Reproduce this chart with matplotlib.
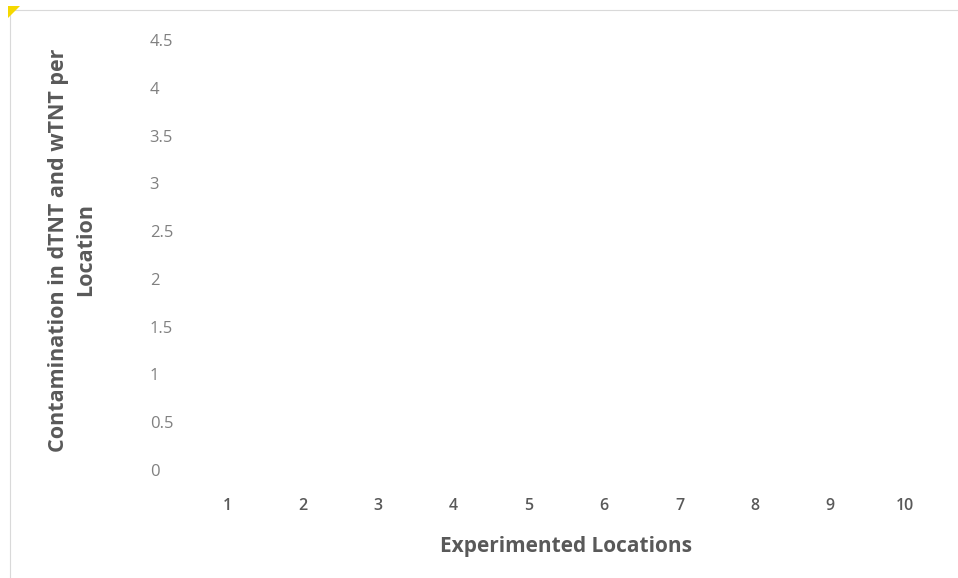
import matplotlib
matplotlib.use("Agg")
import matplotlib.pyplot as plt
import matplotlib.patches as mpatches

# data: the chart has no plotted series, only the category axis and value scale
locations = ["1", "2", "3", "4", "5", "6", "7", "8", "9", "10"]
y_ticks = [0, 0.5, 1, 1.5, 2, 2.5, 3, 3.5, 4, 4.5]
y_ticklabels = ["0", "0.5", "1", "1.5", "2", "2.5", "3", "3.5", "4", "4.5"]

TICK = "#595959"
LABEL = "#595959"

plt.rcParams["font.family"] = ["Open Sans", "DejaVu Sans"]

fig = plt.figure(figsize=(9.58, 5.78), dpi=100)
ax = fig.add_axes([190 / 958, 1 - 470 / 578, 753 / 958, 430 / 578])

x = list(range(len(locations)))
ax.set_xlim(-0.5, len(locations) - 0.5)
ax.set_ylim(0, 4.5)
ax.set_xticks(x)
ax.set_xticklabels(locations, fontsize=11.5, color=TICK, fontweight="semibold")
ax.set_yticks(y_ticks)
ax.set_yticklabels(y_ticklabels, fontsize=12, color="#808080")
for lbl in ax.get_yticklabels():
    lbl.set_ha("left")
ax.tick_params(axis="y", length=0, pad=29)
ax.tick_params(axis="x", length=0, pad=20)
for s in ax.spines.values():
    s.set_visible(False)

ax.set_xlabel("Experimented Locations", fontsize=15, fontweight="bold",
              color=LABEL, labelpad=16)
fig.text(72 / 958, 1 - 250 / 578, "Contamination in dTNT and wTNT per\nLocation",
         rotation=90, ha="center", va="center", fontsize=15.5, fontweight="bold",
         color=LABEL, linespacing=1.35)

# chart frame and the little selection marker in the corner
fig.patches.append(mpatches.Rectangle((10 / 958, -0.01), 1.0, 1 - 10 / 578 + 0.01,
                                      transform=fig.transFigure, fill=False,
                                      edgecolor="#d9d9d9", linewidth=0.8))
fig.patches.append(mpatches.Polygon([(8 / 958, 1 - 6 / 578), (20 / 958, 1 - 6 / 578),
                                     (8 / 958, 1 - 18 / 578)],
                                    transform=fig.transFigure, facecolor="#f5d800",
                                    edgecolor="none"))

fig.savefig("out.png", dpi=100, facecolor="white")
